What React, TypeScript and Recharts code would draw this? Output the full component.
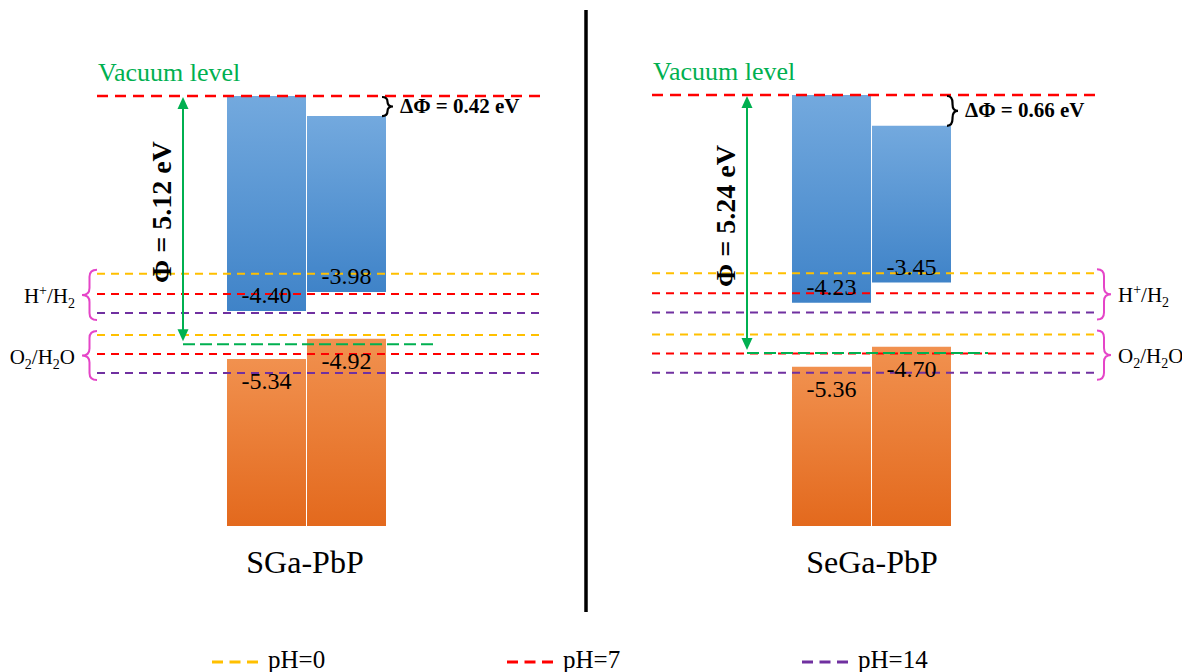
import React from 'react';
import { ComposedChart, Bar, XAxis, YAxis, ReferenceLine, ReferenceArea, LabelList } from 'recharts';

// energies in eV, vacuum level = 0 (positions)
const columns = ['left', 'right'];
const bandBottom = -8.8;

const sgaTop = [0, -0.41];
const sgaCbm = [-4.4, -4.01];
const sgaVbm = [-5.38, -4.97];
const sgaCbmText = ['-4.40', '-3.98'];
const sgaVbmText = ['-5.34', '-4.92'];
const sgaPhi = -5.08;

const segaTop = [0, -0.63];
const segaCbm = [-4.24, -3.83];
const segaVbm = [-5.55, -5.14];
const segaCbmText = ['-4.23', '-3.45'];
const segaVbmText = ['-5.36', '-4.70'];
const segaPhi = -5.27;

// water redox levels at pH 0, 7, 14
const hydrogenLevels = [-3.64, -4.05, -4.44];
const oxygenLevels = [-4.89, -5.28, -5.67];
const phLabels = ['pH=0', 'pH=7', 'pH=14'];
const phColors = ['#ffc000', '#ff0000', '#7030a0'];

const SERIF = '"Liberation Serif", "Times New Roman", serif';
const GREEN = '#00b050';
const MAGENTA = '#e545c8';
const serif = { fontFamily: SERIF };

const rectOf = (p: any) => {
  const vb = p.viewBox ?? p;
  const y0 = Math.min(vb.y, vb.y + vb.height);
  const y1 = Math.max(vb.y, vb.y + vb.height);
  return { x: vb.x, w: vb.width, y0, y1 };
};

const bracePath = (edge: number, tip: number, y0: number, y1: number) => {
  const xm = (edge + tip) / 2;
  const ym = (y0 + y1) / 2;
  const r = Math.min(7, (y1 - y0) / 4);
  return `M${edge},${y0} Q${xm},${y0} ${xm},${y0 + r} L${xm},${ym - r} Q${xm},${ym} ${tip},${ym} Q${xm},${ym} ${xm},${ym + r} L${xm},${y1 - r} Q${xm},${y1} ${edge},${y1}`;
};

const CbLabel = (p: any) => {
  const r = rectOf(p);
  return (
    <text x={r.x + r.w / 2} y={r.y1 - 8} textAnchor="middle" style={serif} fontSize={24} fill="#000">
      {p.value}
    </text>
  );
};

const VbLabel = (p: any) => {
  const r = rectOf(p);
  return (
    <text x={r.x + r.w / 2} y={r.y0 + 30} textAnchor="middle" style={serif} fontSize={24} fill="#000">
      {p.value}
    </text>
  );
};

const DPhiLabel = (p: any) => {
  if (!p.value) return null;
  const r = rectOf(p);
  const edge = r.x + r.w;
  return (
    <g>
      <path d={bracePath(edge - 4, edge + 7, r.y0 + 1, r.y1)} fill="none" stroke="#000" strokeWidth={2.2} />
      <text x={edge + 14} y={(r.y0 + r.y1) / 2 + 7} style={serif} fontSize={21} fontWeight="bold" fill="#000">
        {p.value}
      </text>
    </g>
  );
};

const hydrogenText = (
  <>
    <tspan>H</tspan>
    <tspan dy={-8} fontSize={14}>+</tspan>
    <tspan dy={8}>/H</tspan>
    <tspan dy={5} fontSize={14}>2</tspan>
  </>
);
const oxygenText = (
  <>
    <tspan>O</tspan>
    <tspan dy={5} fontSize={14}>2</tspan>
    <tspan dy={-5}>/H</tspan>
    <tspan dy={5} fontSize={14}>2</tspan>
    <tspan dy={-5}>O</tspan>
  </>
);

type Pad = { left: number; right: number };

// ReferenceArea rects span the padded axis range, so step back out to the plot edges
const braceShape = (side: 'left' | 'right', pad: Pad, label: React.ReactNode) => (p: any) => {
  const { x, y, width, height } = p;
  const y0 = y - 4;
  const y1 = y + height + 7;
  const edge = side === 'left' ? x - pad.left : x + width + pad.right;
  const tip = side === 'left' ? edge - 15 : edge + 14;
  const ym = (y0 + y1) / 2;
  return (
    <g>
      <path d={bracePath(edge, tip, y0, y1)} fill="none" stroke={MAGENTA} strokeWidth={2} />
      <text
        x={side === 'left' ? tip - 7 : tip + 7}
        y={ym + 8}
        textAnchor={side === 'left' ? 'end' : 'start'}
        style={serif}
        fontSize={21}
        fill="#000"
      >
        {label}
      </text>
    </g>
  );
};

const phiShape = (pad: Pad, arrowDx: number, phiText: string) => (p: any) => {
  const { x, y, height } = p;
  const plotLeft = x - pad.left;
  const ax = plotLeft + arrowDx;
  const yb = y + height;
  return (
    <g>
      <text x={plotLeft + 1} y={y - 15} fill={GREEN} fontSize={26} style={serif}>
        Vacuum level
      </text>
      <line x1={ax} y1={y + 11} x2={ax} y2={yb - 14} stroke={GREEN} strokeWidth={2} />
      <path d={`M${ax},${y + 1} L${ax - 5.5},${y + 13} L${ax + 5.5},${y + 13} Z`} fill={GREEN} />
      <path d={`M${ax},${yb - 3} L${ax - 5.5},${yb - 15} L${ax + 5.5},${yb - 15} Z`} fill={GREEN} />
      <line x1={ax} y1={yb} x2={plotLeft + 336} y2={yb} stroke={GREEN} strokeWidth={2} strokeDasharray="12 5" />
      <text
        transform={`translate(${ax - 22},${(y + yb) / 2 - 8}) rotate(-90)`}
        textAnchor="middle"
        dominantBaseline="central"
        style={serif}
        fontWeight="bold"
        fontSize={28}
        fill="#000"
      >
        {phiText}
      </text>
    </g>
  );
};

type PanelProps = {
  id: string;
  left: number;
  width: number;
  margin: { top: number; right: number; bottom: number; left: number };
  padding: Pad;
  top: number[];
  cbm: number[];
  vbm: number[];
  cbmText: string[];
  vbmText: string[];
  phi: number;
  phiText: string;
  dPhiText: string;
  braceSide: 'left' | 'right';
  arrowDx: number;
};

function EnergyPanel(props: PanelProps) {
  const { id, left, width, margin, padding, top, cbm, vbm, cbmText, vbmText, phi, phiText, dPhiText, braceSide, arrowDx } = props;
  const data = columns.map((name, i) => ({
    name,
    offset: top[i],
    cb: cbm[i] - top[i],
    gap: vbm[i] - cbm[i],
    vb: bandBottom - vbm[i],
    cbmText: cbmText[i],
    vbmText: vbmText[i],
    dPhi: i === 1 ? dPhiText : '',
  }));

  return (
    <div style={{ position: 'absolute', left, top: 0 }}>
      <ComposedChart width={width} height={672} data={data} margin={margin} style={serif}>
        <defs>
          <linearGradient id={`cb-${id}`} x1="0" y1="0" x2="0" y2="1">
            <stop offset="0%" stopColor="#73a9de" />
            <stop offset="100%" stopColor="#3f83c8" />
          </linearGradient>
          <linearGradient id={`vb-${id}`} x1="0" y1="0" x2="0" y2="1">
            <stop offset="0%" stopColor="#f1914f" />
            <stop offset="100%" stopColor="#e3691d" />
          </linearGradient>
        </defs>
        <XAxis dataKey="name" type="category" hide padding={padding} />
        <YAxis type="number" hide domain={[bandBottom, 0]} allowDataOverflow />
        <Bar dataKey="offset" stackId="s" barSize={79} fill="transparent" isAnimationActive={false}>
          <LabelList dataKey="dPhi" content={DPhiLabel} />
        </Bar>
        <Bar dataKey="cb" stackId="s" barSize={79} fill={`url(#cb-${id})`} isAnimationActive={false}>
          <LabelList dataKey="cbmText" content={CbLabel} />
        </Bar>
        <Bar dataKey="gap" stackId="s" barSize={79} fill="transparent" isAnimationActive={false} />
        <Bar dataKey="vb" stackId="s" barSize={79} fill={`url(#vb-${id})`} isAnimationActive={false}>
          <LabelList dataKey="vbmText" content={VbLabel} />
        </Bar>

        {hydrogenLevels.map((v, i) => (
          <ReferenceLine key={`h${i}`} y={v} stroke={phColors[i]} strokeWidth={2} strokeDasharray="8 6" zIndex={650} />
        ))}
        {oxygenLevels.map((v, i) => (
          <ReferenceLine key={`o${i}`} y={v} stroke={phColors[i]} strokeWidth={2} strokeDasharray="8 6" zIndex={650} />
        ))}
        <ReferenceLine y={0} stroke="#ff0000" strokeWidth={2.5} strokeDasharray="11 7" zIndex={650} />

        <ReferenceArea
          y1={Math.min(...hydrogenLevels)}
          y2={Math.max(...hydrogenLevels)}
          shape={braceShape(braceSide, padding, hydrogenText)}
          zIndex={650}
        />
        <ReferenceArea
          y1={Math.min(...oxygenLevels)}
          y2={Math.max(...oxygenLevels)}
          shape={braceShape(braceSide, padding, oxygenText)}
          zIndex={650}
        />
        <ReferenceArea y1={phi} y2={0} shape={phiShape(padding, arrowDx, phiText)} zIndex={660} />
      </ComposedChart>
    </div>
  );
}

export default function App() {
  return (
    <div style={{ position: 'absolute', left: 0, top: 0, width: 1182, height: 672, background: '#fff', overflow: 'hidden' }}>
      <svg width={1182} height={672} style={{ position: 'absolute', left: 0, top: 0 }}>
        <line x1={586} y1={10} x2={586} y2={612} stroke="#000" strokeWidth={3.5} />
        <text x={305} y={573} textAnchor="middle" style={serif} fontSize={32} fill="#000">
          SGa-PbP
        </text>
        <text x={872} y={573} textAnchor="middle" style={serif} fontSize={32} fill="#000">
          SeGa-PbP
        </text>
        {phLabels.map((label, i) => {
          const x0 = 212 + i * 295;
          return (
            <g key={label}>
              <line x1={x0} y1={662} x2={x0 + 46} y2={662} stroke={phColors[i]} strokeWidth={3} strokeDasharray="11 6.5" />
              <text x={x0 + 56} y={668} style={serif} fontSize={25} fill="#000">
                {label}
              </text>
            </g>
          );
        })}
      </svg>

      <EnergyPanel
        id="sga"
        left={0}
        width={586}
        margin={{ top: 96, right: 44, bottom: 146, left: 97 }}
        padding={{ left: 129, right: 156 }}
        top={sgaTop}
        cbm={sgaCbm}
        vbm={sgaVbm}
        cbmText={sgaCbmText}
        vbmText={sgaVbmText}
        phi={sgaPhi}
        phiText="Φ = 5.12 eV"
        dPhiText="ΔΦ = 0.42 eV"
        braceSide="left"
        arrowDx={86}
      />
      <EnergyPanel
        id="sega"
        left={586}
        width={596}
        margin={{ top: 95, right: 85, bottom: 146, left: 66 }}
        padding={{ left: 139, right: 146 }}
        top={segaTop}
        cbm={segaCbm}
        vbm={segaVbm}
        cbmText={segaCbmText}
        vbmText={segaVbmText}
        phi={segaPhi}
        phiText="Φ = 5.24 eV"
        dPhiText="ΔΦ = 0.66 eV"
        braceSide="right"
        arrowDx={95}
      />
    </div>
  );
}
